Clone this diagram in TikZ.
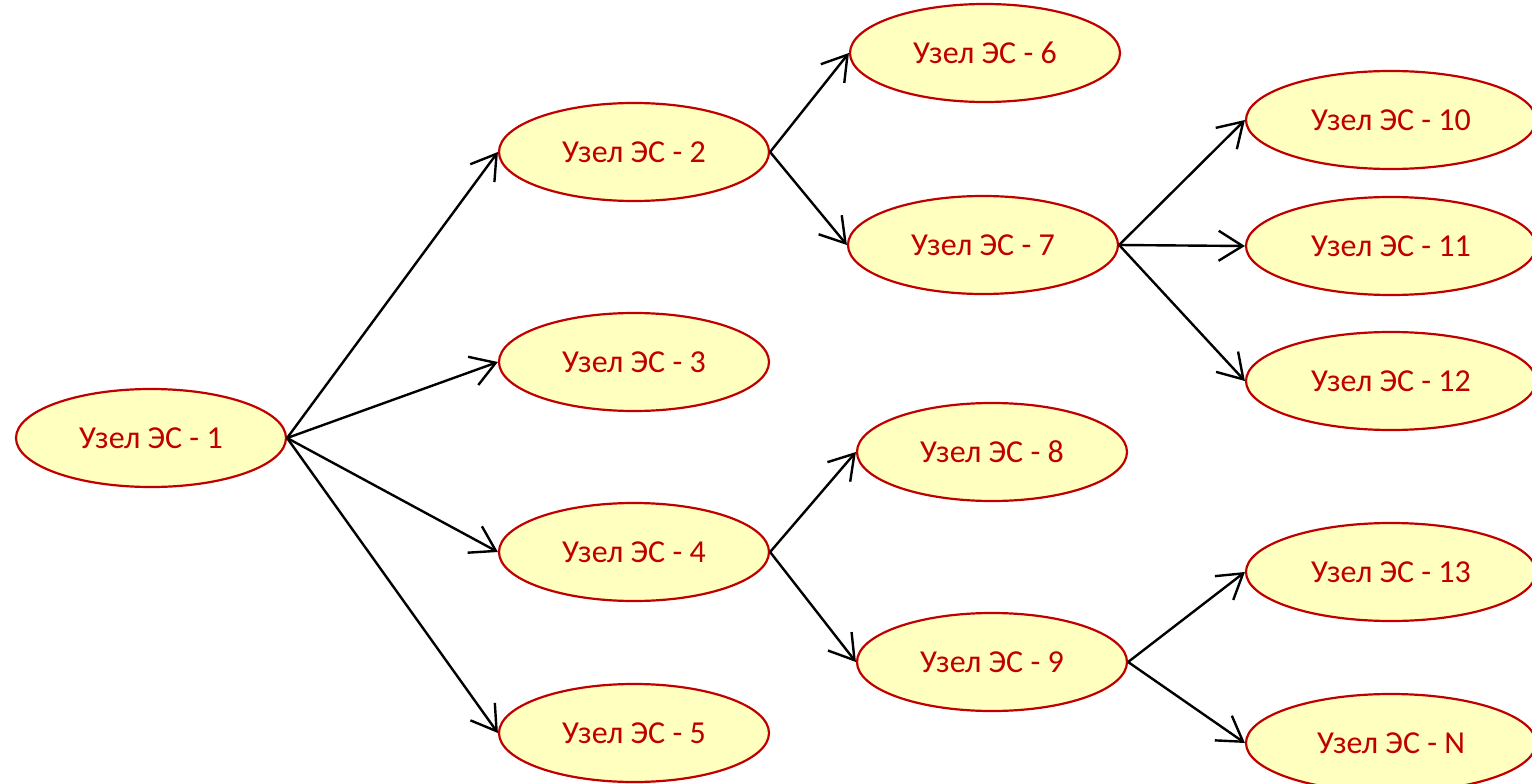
\documentclass[tikz,border=0pt]{standalone}
\usepackage{fontspec}
\setmainfont{Carlito}
\usetikzlibrary{shapes.geometric,arrows.meta}
\definecolor{nodered}{HTML}{C00000}
\definecolor{nodefill}{HTML}{FFFFC0}
\begin{document}
\begin{tikzpicture}[x=1pt,y=-1pt,
  es/.style={ellipse,draw=nodered,fill=nodefill,line width=2.2pt,text=nodered,
    minimum width=270pt,minimum height=98pt,inner sep=0pt,
    font=\fontsize{32}{38}\selectfont},
  esw/.style={es,minimum width=290pt},
  link/.style={line width=2.4pt,-{Straight Barb[length=24pt,width=30pt,line width=2.4pt]}}]
\useasboundingbox (0,0) rectangle (1532,784);
\node[es] (n1) at (151,438) {Узел ЭС - 1};
\node[es] (n2) at (634,152) {Узел ЭС - 2};
\node[es] (n3) at (634,362) {Узел ЭС - 3};
\node[es] (n4) at (634,552) {Узел ЭС - 4};
\node[es] (n5) at (634,733) {Узел ЭС - 5};
\node[es] (n6) at (985,53) {Узел ЭС - 6};
\node[es] (n7) at (983,245) {Узел ЭС - 7};
\node[es] (n8) at (992,452) {Узел ЭС - 8};
\node[es] (n9) at (992,662) {Узел ЭС - 9};
\node[esw] (n10) at (1391,120) {Узел ЭС - 10};
\node[esw] (n11) at (1391,246) {Узел ЭС - 11};
\node[esw] (n12) at (1391,381) {Узел ЭС - 12};
\node[esw] (n13) at (1391,572) {Узел ЭС - 13};
\node[esw] (nN) at (1391,743) {Узел ЭС - N};
\foreach \a/\b in {n1/n2,n1/n3,n1/n4,n1/n5,n2/n6,n2/n7,n4/n8,n4/n9,n7/n10,n7/n11,n7/n12,n9/n13,n9/nN}
  \draw[link] (\a.east) -- (\b.west);
\end{tikzpicture}
\end{document}
